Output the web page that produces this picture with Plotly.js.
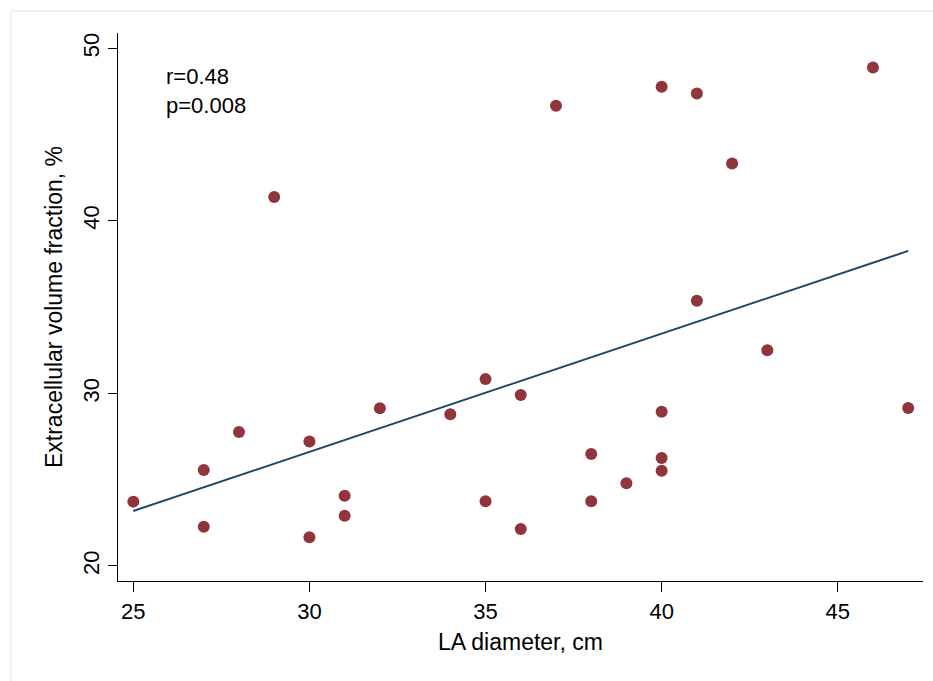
<!DOCTYPE html>
<html>
<head>
<meta charset="utf-8">
<script src="https://cdn.plot.ly/plotly-3.0.1.min.js"></script>
<style>
  html, body { margin: 0; padding: 0; background: #ffffff; }
  #wrap { position: relative; width: 933px; height: 681px; overflow: hidden; }
  #chart { width: 933px; height: 681px; }
  #frame { position: absolute; left: 10px; top: 10px; width: 940px; height: 700px;
           border-left: 2px solid #eef2f2; border-top: 2px solid #eef2f2; pointer-events: none; }
</style>
</head>
<body>
<div id="wrap">
  <div id="chart"></div>
  <div id="frame"></div>
</div>
<script>
// LA diameter (cm)
const laDiameter = [25, 27, 27, 28, 29, 30, 30, 31, 31, 32, 34, 35, 35, 36, 36, 37,
                    38, 38, 39, 40, 40, 40, 40, 41, 41, 42, 43, 46, 47];
// Extracellular volume fraction (%)
const ecvFraction = [23.73, 25.56, 22.28, 27.76, 41.38, 27.22, 21.66, 24.07, 22.91, 29.14,
                     28.79, 30.83, 23.75, 29.91, 22.14, 46.67, 26.49, 23.75, 24.79,
                     47.77, 28.94, 26.26, 25.52, 47.39, 35.37, 43.33, 32.50, 48.89, 29.15];
// Fitted linear regression line endpoints
const fitX = [25, 47];
const fitY = [23.19, 38.26];
// Ticks
const xTicks = [25, 30, 35, 40, 45];
const yTicks = [20, 30, 40, 50];
const statsText = ["r=0.48", "p=0.008"];

const font = "Liberation Sans, Arial, Helvetica, sans-serif";

const traces = [
  {
    x: laDiameter, y: ecvFraction, type: "scatter", mode: "markers",
    marker: { color: "#90353B", size: 12, line: { width: 0 } },
    hoverinfo: "x+y", showlegend: false
  },
  {
    x: fitX, y: fitY, type: "scatter", mode: "lines",
    line: { color: "#1A476F", width: 2 },
    hoverinfo: "skip", showlegend: false
  }
];

const layout = {
  width: 933, height: 681,
  margin: { l: 118, r: 10, t: 33, b: 100 },
  paper_bgcolor: "#ffffff", plot_bgcolor: "#ffffff",
  font: { family: font, size: 22, color: "#000000" },
  xaxis: {
    range: [24.565, 47.42], tickvals: xTicks, ticktext: xTicks.map(String),
    showgrid: false, zeroline: false, showline: true, linecolor: "#000000", linewidth: 1,
    ticks: "outside", ticklen: 10, tickwidth: 1, tickcolor: "#000000",
    tickfont: { family: font, size: 22, color: "#000000" },
    ticklabelstandoff: 1,
    title: { text: "LA diameter, cm", font: { family: font, size: 23, color: "#000000" }, standoff: 10 }
  },
  yaxis: {
    range: [19.13, 50.89], tickvals: yTicks, ticktext: yTicks.map(String),
    showgrid: false, zeroline: false, showline: true, linecolor: "#000000", linewidth: 1,
    ticks: "outside", ticklen: 9, tickwidth: 1, tickcolor: "#000000",
    tickangle: -90,
    tickfont: { family: font, size: 22, color: "#000000" },
    title: { text: "Extracellular volume fraction, %", font: { family: font, size: 23, color: "#000000" }, standoff: 10 }
  },
  annotations: [
    { x: 25.9, y: 47.52, xref: "x", yref: "y", text: statsText.join("<br>"), showarrow: false,
      align: "left", xanchor: "left", yanchor: "middle", borderpad: 0,
      font: { family: font, size: 22, color: "#000000" } }
  ]
};

Plotly.newPlot("chart", traces, layout, { displayModeBar: false, staticPlot: true });
</script>
</body>
</html>
